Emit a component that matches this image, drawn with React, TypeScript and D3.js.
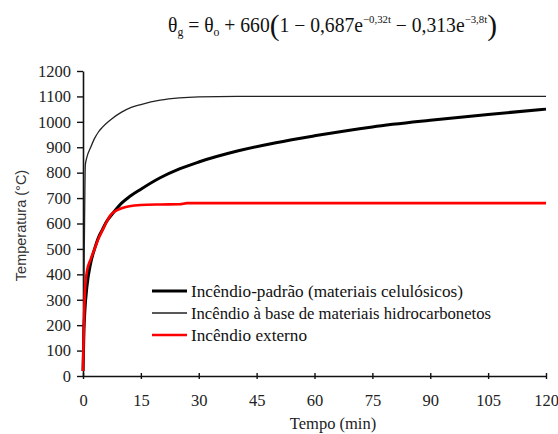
import React, { useEffect, useRef } from "react";
import * as d3 from "d3";

// Tempo (min) e temperatura (°C)
const padraoTempo = [0, 0.25, 0.5, 1, 2, 3, 4, 5, 6, 8, 10, 12, 15, 20, 25, 30, 40, 50, 60, 75, 90, 105, 120];
const padraoTemp = [20, 180, 260, 350, 445, 500, 545, 575, 605, 645, 680, 705, 735, 780, 815, 842, 885, 918, 945, 980, 1006, 1029, 1050];

const hidroTempo = [0, 0.2, 0.4, 0.6, 1, 2, 3, 4, 5, 7.5, 10, 12.5, 15, 20, 25, 30, 40, 60, 120];
const hidroTemp = [20, 300, 600, 830, 860, 900, 935, 960, 978, 1012, 1038, 1057, 1068, 1085, 1094, 1098, 1100, 1100, 1100];

const externoTempo = [0, 0.2, 0.5, 1, 2, 3, 4, 5, 6, 7, 8, 10, 12, 15, 20, 25, 27, 30, 60, 90, 120];
const externoTemp = [20, 180, 330, 410, 460, 500, 540, 572, 603, 630, 645, 660, 668, 673, 675, 676, 680, 680, 680, 680, 680];

const xTicks = [0, 15, 30, 45, 60, 75, 90, 105, 120];
const yTicks = [0, 100, 200, 300, 400, 500, 600, 700, 800, 900, 1000, 1100, 1200];

const legendas = [
  "Incêndio-padrão (materiais celulósicos)",
  "Incêndio à base de materiais hidrocarbonetos",
  "Incêndio externo",
];
const legendaLarg = [272, 300, 116];

const SERIF = "'Liberation Serif'";
const SANS = "'Liberation Sans', Arial, sans-serif";

const App = () => {
  const svgRef = useRef(null);

  useEffect(() => {
    const svg = d3.select(svgRef.current);
    svg.selectAll("*").remove();

    const width = 558;
    const height = 434;
    const margin = { top: 71, right: 12, bottom: 58, left: 83 };

    svg.attr("width", width).attr("height", height);

    const x = d3.scaleLinear().domain([0, 120]).range([margin.left, width - margin.right]);
    const y = d3.scaleLinear().domain([0, 1200]).range([height - margin.bottom, margin.top]);

    // Fórmula
    const f = svg.append("text")
      .attr("x", 168)
      .attr("y", 32)
      .attr("font-family", "Times New Roman")
      .attr("font-size", 20)
      .attr("fill", "#111")
      .attr("textLength", 329)
      .attr("lengthAdjust", "spacingAndGlyphs");
    f.append("tspan").text("θ");
    f.append("tspan").attr("font-size", 12).attr("dy", 4).text("g");
    f.append("tspan").attr("dy", -4).text(" = θ");
    f.append("tspan").attr("font-size", 12).attr("dy", 4).text("o");
    f.append("tspan").attr("dy", -4).text(" + 660");
    f.append("tspan").attr("font-size", 30).attr("dy", 3).text("(");
    f.append("tspan").attr("dy", -3).text("1 − 0,687e");
    f.append("tspan").attr("font-size", 11).attr("dy", -9).text("−0,32t");
    f.append("tspan").attr("dy", 9).text(" − 0,313e");
    f.append("tspan").attr("font-size", 11).attr("dy", -9).text("−3,8t");
    f.append("tspan").attr("font-size", 30).attr("dy", 12).text(")");

    // Eixos
    const gx = svg.append("g")
      .attr("transform", `translate(0,${y(0)})`)
      .call(d3.axisBottom(x).tickValues(xTicks).tickFormat(d3.format("d"))
        .tickSize(3).tickPadding(15).tickSizeOuter(0));
    gx.selectAll(".tick line").attr("y1", -3);

    const gy = svg.append("g")
      .attr("transform", `translate(${x(0)},0)`)
      .call(d3.axisLeft(y).tickValues(yTicks).tickFormat(d3.format("d"))
        .tickSize(6).tickPadding(6).tickSizeOuter(0));

    [gx, gy].forEach(g => {
      g.attr("font-family", SERIF).attr("font-size", 16.5);
      g.select(".domain").attr("stroke", "#111").attr("stroke-width", 1.6);
      g.selectAll(".tick line").attr("stroke", "#111").attr("stroke-width", 1.4);
      g.selectAll(".tick text").attr("fill", "#222");
    });

    svg.append("text")
      .attr("transform", `translate(21,${(y(0) + y(1200)) / 2 + 2}) rotate(-90)`)
      .attr("text-anchor", "middle")
      .attr("dy", "0.35em")
      .attr("font-family", SANS)
      .attr("font-size", 14.5)
      .attr("fill", "#333")
      .text("Temperatura (°C)");

    svg.append("text")
      .attr("x", 333)
      .attr("y", 429)
      .attr("text-anchor", "middle")
      .attr("font-family", SERIF)
      .attr("font-size", 16.5)
      .attr("fill", "#222")
      .text("Tempo (min)");

    // Curvas
    const line = d3.line()
      .x(d => x(d[0]))
      .y(d => y(d[1]))
      .curve(d3.curveMonotoneX);

    const series = [
      { t: padraoTempo, v: padraoTemp, color: "#000", w: 3 },
      { t: hidroTempo, v: hidroTemp, color: "#222", w: 1.3 },
      { t: externoTempo, v: externoTemp, color: "#f00", w: 2.6 },
    ];

    series.forEach(s => {
      svg.append("path")
        .datum(s.t.map((t, i) => [t, s.v[i]]))
        .attr("fill", "none")
        .attr("stroke", s.color)
        .attr("stroke-width", s.w)
        .attr("stroke-linejoin", "round")
        .attr("d", line);
    });

    // Legenda
    series.forEach((s, i) => {
      const ly = 291 + i * 22;
      svg.append("line")
        .attr("x1", 152)
        .attr("x2", 187)
        .attr("y1", ly)
        .attr("y2", ly)
        .attr("stroke", s.color)
        .attr("stroke-width", s.w);
      svg.append("text")
        .attr("x", 191)
        .attr("y", ly + 6)
        .attr("font-family", SERIF)
        .attr("font-size", 16.5)
        .attr("fill", "#111")
        .attr("textLength", legendaLarg[i])
        .attr("lengthAdjust", "spacingAndGlyphs")
        .text(legendas[i]);
    });
  }, []);

  return (
    <svg ref={svgRef} style={{ position: "absolute", left: 0, top: 0, background: "#fff" }}></svg>
  );
};

export default App;
